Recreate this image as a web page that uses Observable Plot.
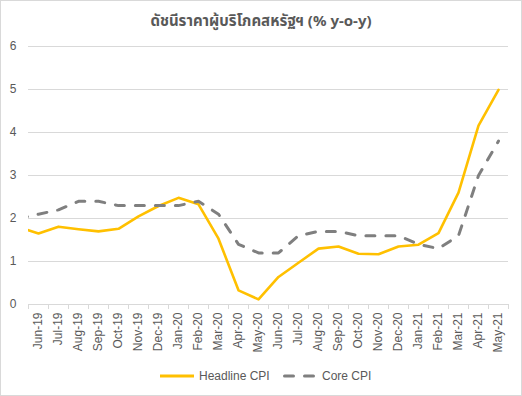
<!DOCTYPE html>
<html><head><meta charset="utf-8">
<script src="https://cdn.jsdelivr.net/npm/d3@7"></script>
<script src="https://cdn.jsdelivr.net/npm/@observablehq/plot@0.6"></script>
<style>
body{margin:0;background:#fff;}
#wrap{position:relative;width:522px;height:396px;overflow:hidden;font-family:"Liberation Sans",Arial,sans-serif;background:#fff;}
#frame{position:absolute;left:0;top:0;width:522px;height:396px;box-sizing:border-box;border:1px solid #d9d9d9;pointer-events:none;}
#title{position:absolute;left:0;top:10px;width:522px;text-align:center;font-weight:bold;font-size:15px;color:#595959;font-family:"Noto Sans","Noto Sans Thai","DejaVu Sans",sans-serif;white-space:nowrap;}
#chart{position:absolute;left:0;top:0;}
#legend{position:absolute;left:0;top:366px;width:522px;height:20px;font-size:12px;color:#595959;}
#legend .item{position:absolute;top:0;display:flex;align-items:center;height:20px;}
</style>
</head><body>
<div id="wrap">
  <div id="chart"></div>
  <div id="title">ดัชนีราคาผู้บริโภคสหรัฐฯ (% y-o-y)</div>
  <div id="legend"></div>
  <div id="frame"></div>
</div>
<script>
// Categories (x axis tick labels)
const months = ["Jun-19","Jul-19","Aug-19","Sep-19","Oct-19","Nov-19","Dec-19","Jan-20","Feb-20","Mar-20","Apr-20","May-20","Jun-20","Jul-20","Aug-20","Sep-20","Oct-20","Nov-20","Dec-20","Jan-21","Feb-21","Mar-21","Apr-21","May-21"];
// Headline CPI, % y-o-y
const headline = [1.65,1.81,1.75,1.70,1.76,2.05,2.29,2.48,2.33,1.53,0.33,0.12,0.64,0.97,1.30,1.35,1.18,1.17,1.35,1.39,1.66,2.60,4.16,4.99];
// Core CPI, % y-o-y
const core = [2.1,2.2,2.4,2.4,2.3,2.3,2.3,2.3,2.4,2.1,1.4,1.2,1.2,1.6,1.7,1.7,1.6,1.6,1.6,1.4,1.3,1.6,3.0,3.8];
// Prior month (May-19), outside the shown range; the lines run into the plot from it
const priorMonth = "May-19";
const headlinePrior = 1.8;
const corePrior = 2.0;
// Y tick labels
const yTicks = [0,1,2,3,4,5,6];

const rows = [{i:-1, m:priorMonth, headline:headlinePrior, core:corePrior}]
  .concat(months.map((m,i)=>({i, m, headline:headline[i], core:core[i]})));

const gold = "#ffc000", grey = "#7f7f7f", txt = "#595959", grid = "#d9d9d9";

const chart = Plot.plot({
  width: 522,
  height: 356,
  marginLeft: 28,
  marginRight: 14,
  marginTop: 46,
  marginBottom: 52,
  style: {fontFamily: "'Liberation Sans', Arial, sans-serif", fontSize: "12px", background: "transparent"},
  x: {type: "linear", domain: [-0.5, months.length - 0.5], axis: null, label: null},
  y: {domain: [0, 6], axis: null, label: null},
  marks: [
    Plot.gridY(yTicks.filter(d => d > 0), {stroke: grid, strokeOpacity: 1}),
    Plot.ruleY([0], {stroke: grid, strokeWidth: 1}),
    Plot.axisY(yTicks, {tickSize: 0, tickPadding: 12, fill: txt, fontSize: 12, label: null}),
    Plot.axisX(d3.range(-0.5, months.length, 1), {tickSize: 5, tickFormat: () => "", stroke: grid, strokeOpacity: 1, label: null}),
    Plot.axisX(d3.range(0, months.length), {tickSize: 0, tickPadding: 8, tickRotate: -90, tickFormat: i => months[i], fill: txt, fontSize: 12, label: null}),
    Plot.line(rows, {x: "i", y: "headline", stroke: gold, strokeWidth: 2.6, clip: true}),
    Plot.line(rows, {x: "i", y: "core", stroke: grey, strokeWidth: 3, strokeDasharray: "9,11", strokeLinecap: "round", clip: true})
  ]
});
document.getElementById("chart").appendChild(chart);

// Legend
const legend = document.getElementById("legend");
const items = [
  {label: "Headline CPI", left: 160, stroke: gold, dash: null},
  {label: "Core CPI", left: 283, stroke: grey, dash: "9,11"}
];
for (const it of items) {
  const div = document.createElement("div");
  div.className = "item";
  div.style.left = it.left + "px";
  div.innerHTML = `<svg width="34" height="10" style="margin-right:5px"><line x1="${it.dash ? 1.5 : 0}" x2="${it.dash ? 32.5 : 34}" y1="5" y2="5" stroke="${it.stroke}" stroke-width="3" ${it.dash ? `stroke-dasharray="${it.dash}" stroke-linecap="round"` : ""}/></svg><span>${it.label}</span>`;
  legend.appendChild(div);
}
</script>
</body></html>
